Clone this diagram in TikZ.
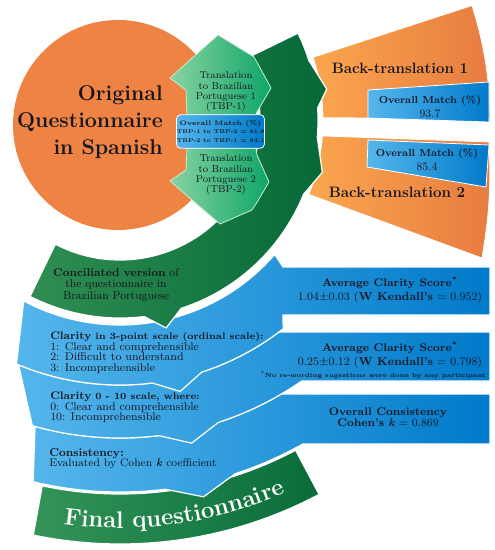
\documentclass[tikz,border=0pt]{standalone}
\usetikzlibrary{decorations.text}
\definecolor{circOr}{RGB}{238,131,68}
\definecolor{btL}{RGB}{251,166,78}
\definecolor{btR}{RGB}{231,124,64}
\definecolor{dgL}{RGB}{48,142,82}
\definecolor{dgR}{RGB}{5,104,55}
\definecolor{lgL}{RGB}{135,212,160}
\definecolor{lgR}{RGB}{15,165,105}
\definecolor{blL}{RGB}{85,182,236}
\definecolor{blR}{RGB}{0,122,202}
\definecolor{fgL}{RGB}{52,148,88}
\definecolor{fgR}{RGB}{8,108,58}
\definecolor{ink}{RGB}{22,22,32}
\tikzset{
  every node/.style={inner sep=0pt, text=ink},
  bandblue/.style={left color=blL, right color=blR, draw=white, line width=0.9pt},
  dkgreen/.style={left color=dgL, right color=dgR, draw=white, line width=0.9pt},
  ltgreen/.style={left color=lgL, right color=lgR, draw=white!55!lgL, line width=0.6pt},
  btshape/.style={left color=btL, right color=btR, draw=white, line width=0.6pt},
  btbox/.style={left color=blL, right color=blR, draw=white, line width=0.6pt},
  finband/.style={left color=fgL, right color=fgR, draw=white, line width=0.9pt}
}
\begin{document}
\begin{tikzpicture}[x=0.75pt,y=0.75pt]
\useasboundingbox (-120,120) rectangle (375,-430);
% original questionnaire circle
\path[fill=circOr] (-2,-5) circle[radius=105];
% back-translation sectors
\path[btshape] (0.6:203) -- (370,2) arc[start angle=0.3,end angle=18,radius=370] -- (18:203) arc[start angle=18,end angle=0.6,radius=203] -- cycle;
\path[btshape] (-4.5:203) -- (369,-22) to[bend left=6] (362,-138) -- (-21.5:203) arc[start angle=-21.5,end angle=-4.5,radius=203] -- cycle;
\path[btbox] (248,30) -- (369,38) -- (369,-2) -- (248,2) -- cycle;
\path[btbox] (248,-20) -- (369,-25) -- (366,-67) -- (247,-47) -- cycle;
% final band
\path[finband] (-102:374) arc[start angle=-102,end angle=-62,radius=374] -- (-62:424) arc[start angle=-62,end angle=-101.8,radius=424] -- cycle;
% blue band 3
\path[bandblue] (-105.5:318) arc[start angle=-105.5,end angle=-59.5,radius=318] -- (370,-274) -- (370,-324) -- (182.8,-324) arc[start angle=-60.6,end angle=-72,radius=372] -- (-77.5:386) -- (-83:372) arc[start angle=-83,end angle=-103.5,radius=372] -- cycle;
% blue band 2
\path[bandblue] (-112.5:265) arc[start angle=-112.5,end angle=-53.1,radius=265] -- (370,-212) -- (370,-261) -- (181.7,-261) arc[start angle=-55.2,end angle=-72,radius=318] -- (-77.5:331) -- (-83:318) arc[start angle=-83,end angle=-106,radius=318] -- cycle;
% blue band 1
\path[bandblue] (-118:205) arc[start angle=-118,end angle=-41,radius=205] -- (163,-147) -- (370,-147) -- (370,-195) -- (163,-195) -- (-52:265) arc[start angle=-52,end angle=-72,radius=265] -- (-77.5:278) -- (-83:265) arc[start angle=-83,end angle=-113,radius=265] -- cycle;
% dark green arc arrow
\path[dkgreen] (26:140) -- (26:198) arc[start angle=26,end angle=17.5,radius=198] -- (8.5:209) -- (3.5:198) arc[start angle=3.5,end angle=-5,radius=198] -- (-14.5:209) -- (-22:198) arc[start angle=-22,end angle=-72,radius=198] -- (-77.5:213) -- (-83:198) arc[start angle=-83,end angle=-117,radius=198] -- (-117.5:140) arc[start angle=-117.5,end angle=26,radius=140] -- cycle;
% light green translation arrows
\path[ltgreen] (98,85) -- (134,63) -- (138,56) -- (151,32) -- (137,8) -- (136,5) -- (67,5) -- (66,30) -- (50,42) -- cycle;
\path[ltgreen] (67,-28) -- (136,-28) -- (137,-35) -- (149,-62) -- (136,-84) -- (132,-90) -- (100,-104) -- (50,-61) -- (66,-50) -- cycle;
\node[btbox, rounded corners=3pt, minimum width=53pt, minimum height=25pt, align=center,
  font=\fontsize{4.1}{6.4}\selectfont\bfseries] (mbox) at (100.5,-11.5)
  {{\fontsize{4.9}{6.4}\selectfont\bfseries Overall Match (\%)}\\TBP-1 to TBP-2 = 81.8\\TBP-2 to TBP-1 = 84.1};
% texts
\node[anchor=east, align=right, font=\fontsize{16}{20}\selectfont\bfseries] (orig) at (43,-2) {Original\\Questionnaire\\in Spanish};
\node[align=center, font=\fontsize{7.5}{7.7}\selectfont] (tbp1) at (106,28) {Translation\\to Brazilian\\Portuguese 1\\(TBP-1)};
\node[align=center, font=\fontsize{7.5}{7.7}\selectfont] (tbp2) at (106,-55) {Translation\\to Brazilian\\Portuguese 2\\(TBP-2)};
\node[font=\fontsize{11.3}{13}\selectfont\bfseries] (bt1) at (280,52) {Back-translation 1};
\node[font=\fontsize{11.3}{13}\selectfont\bfseries] (bt2) at (277,-72) {Back-translation 2};
\node[align=center, font=\fontsize{7.6}{10.5}\selectfont] (om1) at (310,13) {\textbf{Overall Match (\%)}\\{\fontsize{8.5}{10.5}\selectfont 93.7}};
\node[align=center, font=\fontsize{7.6}{10.5}\selectfont] (om2) at (307,-40) {\textbf{Overall Match (\%)}\\{\fontsize{8.5}{10.5}\selectfont 85.4}};
\node[align=center, font=\fontsize{8.5}{8.6}\selectfont] (conc) at (-4,-165) {\textbf{Conciliated version} of\\the questionnaire in\\Brazilian Portuguese};
\node[anchor=north west, align=left, font=\fontsize{8.4}{7.8}\selectfont] (b1t) at (-70,-212)
  {{\fontsize{8.2}{7.8}\selectfont\bfseries Clarity} {\fontsize{7.2}{7.8}\selectfont\bfseries in 3-point scale (ordinal scale):}\\1: Clear and comprehensible\\2: Difficult to understand\\3: Incomprehensible};
\node[anchor=north west, align=left, font=\fontsize{8.4}{7.8}\selectfont] (b2t) at (-70,-272)
  {{\fontsize{8.2}{7.8}\selectfont\bfseries Clarity} {\fontsize{7.2}{7.8}\selectfont\bfseries 0 - 10 scale, where:}\\0: Clear and comprehensible\\10: Incomprehensible};
\node[anchor=north west, align=left, font=\fontsize{8.2}{7.8}\selectfont] (b3t) at (-71,-328)
  {{\fontsize{8.6}{7.8}\selectfont\bfseries Consistency:}\\Evaluated by Cohen \textbf{\textit{k}} coefficient};
\node[align=center, font=\fontsize{8.7}{10.5}\selectfont] (r1t) at (270,-170)
  {{\fontsize{8.3}{10.5}\selectfont\bfseries Average Clarity Score\textsuperscript{*}}\\1.04$\pm$0.03 (\textbf{W Kendall’s} = 0.952)};
\node[align=center, font=\fontsize{8.7}{10.5}\selectfont] (r2t) at (270,-235)
  {{\fontsize{8.3}{10.5}\selectfont\bfseries Average Clarity Score\textsuperscript{*}}\\0.25$\pm$0.12 (\textbf{W Kendall’s} = 0.798)};
\node[anchor=east, font=\fontsize{4.5}{5}\selectfont\bfseries] (r2n) at (366,-255) {\textsuperscript{*}No re-wording sugestions were done by any participant};
\node[align=center, font=\fontsize{8.3}{8.3}\selectfont] (r3t) at (268,-297.5)
  {\textbf{Overall Consistency}\\\textbf{Cohen’s \textit{k}} = 0.869};
\path[decorate, decoration={text along path, text align=center, text color=white,
  text={|\fontsize{18}{20}\selectfont\bfseries|Final questionnaire}}]
  (-112:408) arc[start angle=-112,end angle=-52,radius=408];
\end{tikzpicture}
\end{document}
